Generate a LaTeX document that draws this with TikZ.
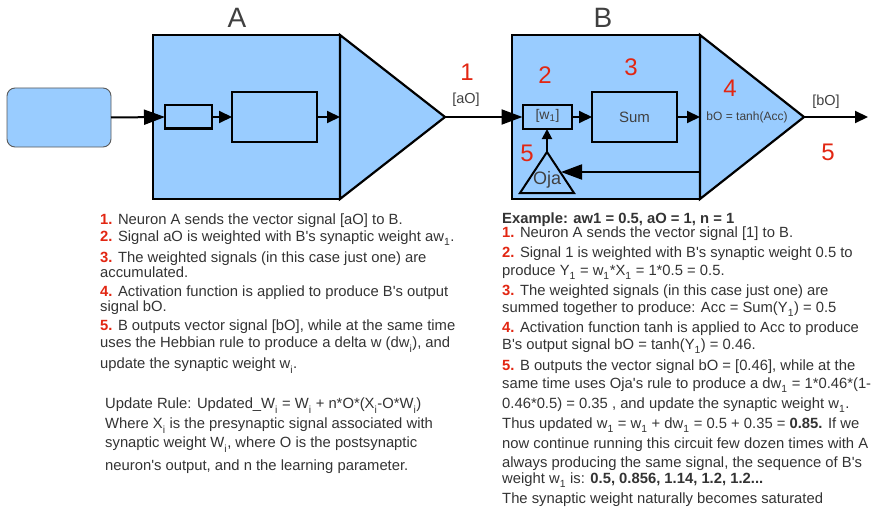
\documentclass[tikz,border=0pt]{standalone}
\usepackage{fontspec}
\setmainfont{Liberation Sans}
\usetikzlibrary{arrows.meta}
\definecolor{boxblue}{HTML}{99CCFF}
\definecolor{numred}{RGB}{226,38,18}
\definecolor{txt}{RGB}{51,51,51}
\definecolor{lbl}{RGB}{64,64,64}
\newcommand\nm[1]{{\color{numred}\bfseries #1.}}
\newcommand\sbs[1]{\raisebox{-0.35ex}{\textsubscript{#1}}}
\newcommand\ap{\textquotesingle}
\newcommand\bodyfont{\fontsize{14.8pt}{17pt}\selectfont}
\begin{document}
\begin{tikzpicture}[x=1pt,y=-1pt,
  blk/.style={draw=black, line width=2.2pt, fill=boxblue, inner sep=0pt, outer sep=0pt},
  inr/.style={draw=black, line width=2pt, fill=boxblue, inner sep=0pt, outer sep=0pt},
  src/.style={draw=black!65, line width=0.9pt, fill=boxblue, rounded corners=8pt, inner sep=0pt, outer sep=0pt},
  con/.style={line width=2pt},
  bighead/.style={con, -{Triangle[length=21pt,width=15pt]}},
  midhead/.style={con, -{Triangle[length=13pt,width=12pt]}},
  tinyhead/.style={con, -{Triangle[length=10pt,width=10pt]}},
  num/.style={text=numred, inner sep=0pt, font=\fontsize{24pt}{24pt}\selectfont},
  lbltxt/.style={text=lbl, inner sep=0pt, font=\fontsize{14.5pt}{15pt}\selectfont},
  title/.style={text=lbl, inner sep=0pt, font=\fontsize{28pt}{28pt}\selectfont},
  bl/.style={anchor=base west, inner sep=0pt, text=txt, font=\bodyfont},
]
\useasboundingbox (0,0) rectangle (880,508);

% --- neuron A ---
\node[src, minimum width=104pt, minimum height=59pt] (srcbox) at (59,117.5) {};
\node[blk, minimum width=187pt, minimum height=164pt] (boxA) at (246.5,117) {};
\coordinate (tipA) at (445,117);
\draw[blk] (boxA.north east) -- (tipA) -- (boxA.south east) -- cycle;
\node[inr, minimum width=47pt, minimum height=23pt] (a1) at (188.5,117) {};
\node[inr, minimum width=85pt, minimum height=49pt] (a2) at (274.5,117) {};
\draw[bighead] (srcbox.east) -- (a1.west);
\draw[midhead] (a1.east) -- (a2.west);
\draw[midhead] (a2.east) -- (boxA.east);
\node[title] (tA) at (237,18) {A};

% --- neuron B ---
\node[blk, minimum width=188pt, minimum height=164pt] (boxB) at (606,117) {};
\coordinate (tipB) at (804,117);
\draw[blk] (boxB.north east) -- (tipB) -- (boxB.south east) -- cycle;
\node[inr, minimum width=49pt, minimum height=24pt] (w1) at (547,117) {};
\node[lbltxt, font=\fontsize{14pt}{14pt}\selectfont] (w1t) at (547.5,116) {[w\textsubscript{1}]};
\node[inr, minimum width=85pt, minimum height=49pt] (sum) at (634.5,117) {};
\node[lbltxt, font=\fontsize{15pt}{15pt}\selectfont] (sumt) at (634.5,117) {Sum};
\coordinate (ojaL) at (520,193);
\coordinate (ojaT) at (547,152);
\coordinate (ojaR) at (574,193);
\draw[inr] (ojaL) -- (ojaT) -- (ojaR) -- cycle;
\node[lbltxt, font=\fontsize{18pt}{18pt}\selectfont] (ojat) at (547,180) {Oja};
\coordinate (fbS) at (700,172);
\coordinate (fbE) at (561,172);
\coordinate (outE) at (868,117);
\draw[bighead] (tipA) -- (w1.west);
\draw[midhead] (w1.east) -- (sum.west);
\draw[midhead] (sum.east) -- (boxB.east);
\draw[tinyhead] (ojaT) -- (w1.south);
\draw[bighead] (fbS) -- (fbE);
\draw[midhead] (tipB) -- (outE);
\node[title] (tB) at (603,18) {B};
\node[lbltxt, font=\fontsize{12pt}{12pt}\selectfont] (act) at (747,117) {bO = tanh(Acc)};
\node[lbltxt] (aOl) at (466,100) {[aO]};
\node[lbltxt] (bOl) at (826,102) {[bO]};

% --- red step numbers ---
\node[num] (n1) at (467,72) {1};
\node[num] (n2) at (545,75) {2};
\node[num] (n3) at (631,67) {3};
\node[num] (n4) at (730,88) {4};
\node[num] (n5a) at (527,153) {5};
\node[num] (n5b) at (828,152) {5};

% --- left text ---
\node[bl] (l1) at (100,224) {\nm{1} Neuron A sends the vector signal [aO] to B.};
\node[bl] (l2) at (100,241) {\nm{2} Signal aO is weighted with B\ap s synaptic weight aw\sbs{1}.};
\node[bl] (l3) at (100,262) {\nm{3} The weighted signals (in this case just one) are};
\node[bl] (l4) at (100,277) {accumulated.};
\node[bl] (l5) at (100,296) {\nm{4} Activation function is applied to produce B\ap s output};
\node[bl] (l6) at (100,311) {signal bO.};
\node[bl] (l7) at (100,330) {\nm{5} B outputs vector signal [bO], while at the same time};
\node[bl] (l8) at (100,347) {uses the Hebbian rule to produce a delta w (dw\sbs{i}), and};
\node[bl] (l9) at (100,368) {update the synaptic weight w\sbs{i}.};

\node[bl] (u1) at (105,408) {Update Rule: Updated\_W\sbs{i} = W\sbs{i} + n*O*(X\sbs{i}-O*W\sbs{i})};
\node[bl] (u2) at (105,428) {Where X\sbs{i} is the presynaptic signal associated with};
\node[bl] (u3) at (105,447) {synaptic weight W\sbs{i}, where O is the postsynaptic};
\node[bl] (u4) at (105,470) {neuron\ap s output, and n the learning parameter.};

% --- right text ---
\node[bl] (r0) at (502,223) {\bfseries Example: aw1 = 0.5, aO = 1, n = 1};
\node[bl] (r1) at (502,237) {\nm{1} Neuron A sends the vector signal [1] to B.};
\node[bl] (r2) at (502,257) {\nm{2} Signal 1 is weighted with B\ap s synaptic weight 0.5 to};
\node[bl] (r3) at (502,275) {produce Y\sbs{1} = w\sbs{1}*X\sbs{1} = 1*0.5 = 0.5.};
\node[bl] (r4) at (502,295) {\nm{3} The weighted signals (in this case just one) are};
\node[bl] (r5) at (502,312) {summed together to produce: Acc = Sum(Y\sbs{1}) = 0.5};
\node[bl] (r6) at (502,332) {\nm{4} Activation function tanh is applied to Acc to produce};
\node[bl] (r7) at (502,349) {B\ap s output signal bO = tanh(Y\sbs{1}) = 0.46.};
\node[bl] (r8) at (502,370) {\nm{5} B outputs the vector signal bO = [0.46], while at the};
\node[bl] (r9) at (502,388) {same time uses Oja\ap s rule to produce a dw\sbs{1} = 1*0.46*(1-};
\node[bl] (r10) at (502,408) {0.46*0.5) = 0.35 , and update the synaptic weight w\sbs{1}.};
\node[bl] (r11) at (502,428) {Thus updated w\sbs{1} = w\sbs{1} + dw\sbs{1} = 0.5 + 0.35 = \textbf{0.85.} If we};
\node[bl] (r12) at (502,448) {now continue running this circuit few dozen times with A};
\node[bl] (r13) at (502,467) {always producing the same signal, the sequence of B\ap s};
\node[bl] (r14) at (502,483) {weight w\sbs{1} is: \textbf{0.5, 0.856, 1.14, 1.2, 1.2...}};
\node[bl] (r15) at (502,503) {The synaptic weight naturally becomes saturated};
\end{tikzpicture}
\end{document}
